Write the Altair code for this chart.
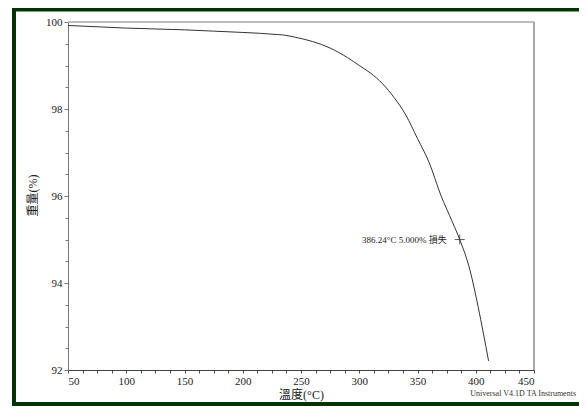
import altair as alt
import pandas as pd

# Curve (temperature °C, weight %)
temp = [50, 75, 100, 125, 150, 175, 200, 215, 225, 235, 245, 260, 275, 290, 300, 310,
        320, 330, 340, 350, 360, 370, 380, 386.24, 395, 402, 411]
weight = [99.92, 99.89, 99.86, 99.84, 99.82, 99.79, 99.76, 99.74, 99.72, 99.70, 99.65,
          99.55, 99.40, 99.18, 99.00, 98.82, 98.58, 98.26, 97.86, 97.32, 96.77, 96.02,
          95.40, 95.00, 94.30, 93.46, 92.21]

x_ticks = [50 + 12.5 * i for i in range(33)]
y_ticks = [92 + 0.5 * i for i in range(17)]

mark_temp = [386.24]
mark_weight = [95.0]
mark_label = ["386.24°C 5.000% 損失"]
footer = ["Universal V4.1D TA Instruments"]

FONT = "Liberation Serif, Noto Sans CJK TC"
GREEN = "#023302"

df = pd.DataFrame({"t": temp, "w": weight})
mk = pd.DataFrame({"t": mark_temp, "w": mark_weight, "label": mark_label})
ft = pd.DataFrame({"label": footer})
one = pd.DataFrame({"a": [0]})

xscale = alt.Scale(domain=[50, 450], nice=False, zero=False)
yscale = alt.Scale(domain=[92, 100], nice=False, zero=False)

xaxis = alt.Axis(
    values=x_ticks,
    format=".0f",
    labelExpr="datum.value % 50 === 0 ? datum.label : ''",
    tickSize=3,
    tickColor="#444",
    domainColor="#444",
    labelColor="#222",
    labelFont=FONT,
    labelFontSize=11,
    labelPadding=2,
    grid=False,
    title="溫度(°C)",
    titleFont=FONT,
    titleFontSize=12,
    titleFontWeight="normal",
    titleColor="#222",
    titleX=233,
    titleY=24,
    titleBaseline="middle",
    titleAlign="center",
)
yaxis = alt.Axis(
    values=y_ticks,
    format=".0f",
    labelExpr="datum.value % 2 === 0 ? datum.label : ''",
    tickSize={"condition": {"test": "datum.value % 2 === 0", "value": 4}, "value": 3},
    tickColor="#777",
    domainColor="#777",
    labelColor="#222",
    labelFont=FONT,
    labelFontSize=11,
    labelPadding=2,
    grid=False,
    title="重量(%)",
    titleFont=FONT,
    titleFontSize=12,
    titleFontWeight="normal",
    titleColor="#222",
    titleAngle=270,
    titleX=-36,
    titleY=173,
    titleBaseline="middle",
    titleAlign="center",
)


def X(**kw):
    return alt.X(scale=xscale, axis=xaxis, **kw)


def Y(**kw):
    return alt.Y(scale=yscale, axis=yaxis, **kw)


line = alt.Chart(df).mark_line(color="#333", strokeWidth=1, interpolate="monotone").encode(
    x=X(field="t", type="quantitative"),
    y=Y(field="w", type="quantitative"),
)

cross = alt.Chart(mk).mark_point(
    shape="M-1,0L1,0M0,-1L0,1", size=100, filled=False, stroke="#222", strokeWidth=1
).encode(
    x=X(field="t", type="quantitative"),
    y=Y(field="w", type="quantitative"),
)

label = alt.Chart(mk).mark_text(
    align="right", baseline="middle", dx=-13, font=FONT, fontSize=9, color="#222"
).encode(
    x=X(field="t", type="quantitative"),
    y=Y(field="w", type="quantitative"),
    text="label:N",
)

foot = alt.Chart(ft).mark_text(
    align="right", baseline="middle", dx=42, dy=24, font=FONT, fontSize=8, color="#333"
).encode(
    x=X(datum=450, type="quantitative"),
    y=Y(datum=92, type="quantitative"),
    text="label:N",
)

top_rule = alt.Chart(one).mark_rule(color="#bdbdbd", strokeWidth=2).encode(
    x=X(datum=50, type="quantitative"),
    x2=alt.X2(datum=450),
    y=Y(datum=100, type="quantitative"),
)
right_rule = alt.Chart(one).mark_rule(color="#8a8a8a", strokeWidth=1.5).encode(
    x=X(datum=450, type="quantitative"),
    y=Y(datum=92, type="quantitative"),
    y2=alt.Y2(datum=100),
)

# dark green picture frame as thin filled bars (top, left, bottom)
frame_top = alt.Chart(one).mark_rect(color=GREEN, strokeWidth=0).encode(
    x=alt.value(-56), x2=alt.value(511), y=alt.value(-14.5), y2=alt.value(-10.5)
)
frame_left = alt.Chart(one).mark_rect(color=GREEN, strokeWidth=0).encode(
    x=alt.value(-56), x2=alt.value(-52), y=alt.value(-14.5), y2=alt.value(384)
)
frame_bottom = alt.Chart(one).mark_rect(color=GREEN, strokeWidth=0).encode(
    x=alt.value(-56), x2=alt.value(511), y=alt.value(380), y2=alt.value(384)
)

chart = alt.layer(
    top_rule, right_rule, line, cross, label, foot, frame_top, frame_left, frame_bottom
).properties(
    width=466,
    height=348,
    padding={"left": 60, "top": 14, "right": 45, "bottom": 36},
    autosize=alt.AutoSizeParams(type="none"),
    background="white",
).configure_view(strokeWidth=0)

chart.save("out.html", embed_options={"renderer": "svg", "actions": False})
